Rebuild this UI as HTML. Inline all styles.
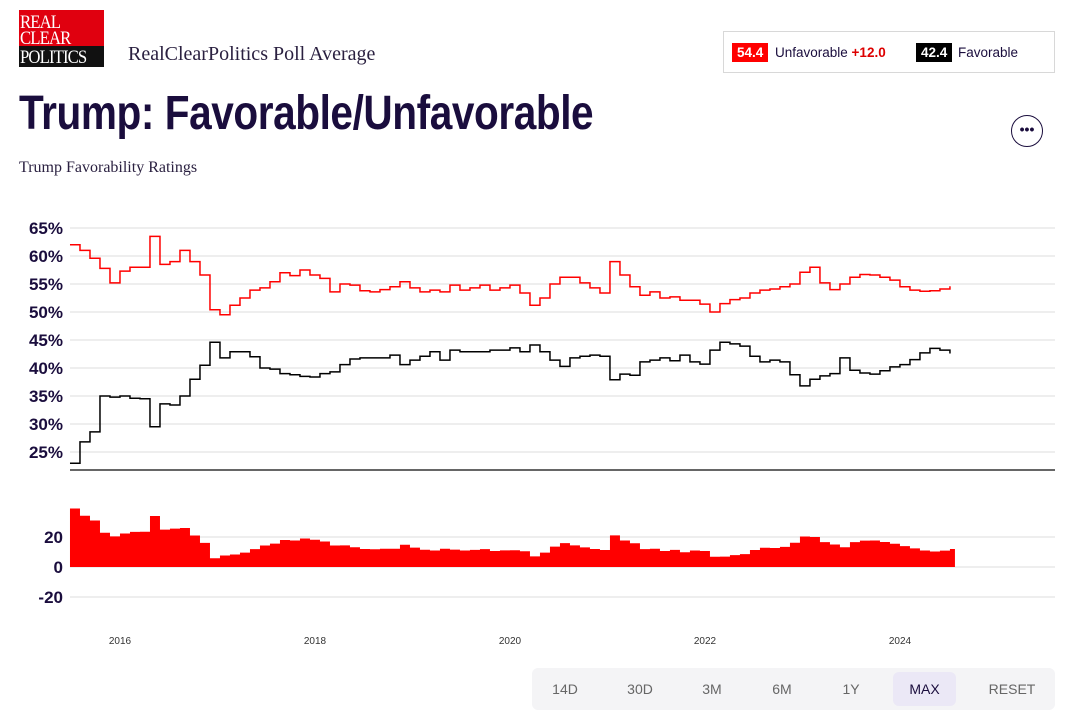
<!DOCTYPE html>
<html><head><meta charset="utf-8">
<style>
body{margin:0;width:1072px;height:711px;background:#fff;overflow:hidden;font-family:"Liberation Sans",sans-serif;position:relative;color:#1a0d3d}
.abs{position:absolute}
#logo{left:19px;top:10px;width:85px;height:57px;background:#e0000f;overflow:hidden}
#logo .t{position:absolute;left:1px;font-family:"Liberation Serif",serif;color:#fff;font-size:19px;line-height:17px;letter-spacing:-1px;transform:scaleX(0.88);transform-origin:left}
#logo .b{position:absolute;left:0;bottom:0;width:85px;height:21px;background:#111}
#title{left:19px;top:86px;font-family:"Liberation Sans Narrow","Liberation Sans",sans-serif;font-weight:bold;font-size:48px;letter-spacing:-0.5px;color:#1a0d3d;transform:scaleX(0.845);transform-origin:left;white-space:nowrap}
.btn{position:absolute;top:668px;height:42px;line-height:42px;font-size:14px;color:#666;text-align:center}
</style></head><body>
<div id="logo" class="abs">
 <div class="b"></div>
 <div class="t" style="top:4px">REAL</div>
 <div class="t" style="top:20px">CLEAR</div>
 <div class="t" style="top:39px">POLITICS</div>
</div>
<div class="abs" style="left:128px;top:43px;font-family:'Liberation Serif',serif;font-size:20px;color:#2a2040">RealClearPolitics Poll Average</div>
<div id="title" class="abs">Trump: Favorable/Unfavorable</div>
<div class="abs" style="left:19px;top:159px;font-family:'Liberation Serif',serif;font-size:16px;color:#2a2040">Trump Favorability Ratings</div>
<div class="abs" style="left:723px;top:31px;width:330px;height:40px;border:1px solid #d8d8d8;font-size:13.5px;color:#1a0d3d">
 <span class="abs" style="left:8px;top:11px;background:#f00;color:#fff;font-weight:bold;padding:1px 5px;line-height:17px">54.4</span>
 <span class="abs" style="left:51px;top:12px;line-height:17px">Unfavorable <b style="color:#d00">+12.0</b></span>
 <span class="abs" style="left:192px;top:11px;background:#000;color:#fff;font-weight:bold;padding:1px 5px;line-height:17px">42.4</span>
 <span class="abs" style="left:234px;top:12px;line-height:17px">Favorable</span>
</div>
<div class="abs" style="left:1011px;top:115px;width:30px;height:30px;border:1.5px solid #1a0d3d;border-radius:50%;text-align:center;line-height:26px;font-size:14px;font-weight:bold">•••</div>

<svg id="chart" class="abs" style="left:0;top:0" width="1072" height="711"></svg>

<div class="abs" style="left:532px;top:668px;width:523px;height:42px;background:#f4f4f6;border-radius:6px"></div>
<div class="btn" style="left:545px;width:40px">14D</div>
<div class="btn" style="left:620px;width:40px">30D</div>
<div class="btn" style="left:692px;width:40px">3M</div>
<div class="btn" style="left:762px;width:40px">6M</div>
<div class="btn" style="left:831px;width:40px">1Y</div>
<div class="btn" style="left:893px;width:63px;top:672px;height:34px;line-height:34px;background:#ebe8f6;border-radius:6px;color:#1a0d3d">MAX</div>
<div class="btn" style="left:985px;width:54px">RESET</div>

<script>
const startYear = 2015.487;
const stepYears = 0.10256;
const unfavorable = [62,61,59.6,57.8,55.2,57.3,58,58,63.5,58.5,59,61,59,56.6,50.4,49.5,51.2,52.5,53.9,54.3,55.4,57,56.5,57.5,56.6,56,53.6,55,54.8,53.8,53.6,54,54.5,55.4,54.3,53.6,53.9,53.6,54.8,53.9,54.3,54.8,53.9,54.3,54.8,53.4,51.2,52.5,55,56.2,56.2,55.2,54.3,53.4,59,56.6,54.5,53,53.6,52.5,52.7,52.1,52.1,51.4,50,51.5,52.2,52.5,53.4,53.9,54.1,54.5,55,57.1,58,55.2,54,55,56.2,56.7,56.6,56.2,55.7,54.5,53.9,53.7,53.8,54.1,54.6];
const favorable = [23,26.8,28.6,35,34.8,35,34.6,34.5,29.5,33.6,33.4,35,38,40.5,44.6,41.8,42.9,42.9,42,40,39.8,39,38.8,38.5,38.4,39,39.3,40.6,41.6,41.8,41.8,41.8,42.3,40.6,41.4,42.1,42.9,41.4,43.2,42.9,42.9,42.9,43.2,43.2,43.6,42.9,44.1,42.9,41.4,40.3,41.8,42.1,42.3,42.1,37.9,38.9,38.7,41.1,41.4,41.8,41.3,42.3,41.1,40.7,43.2,44.6,44.3,43.9,42.1,41.1,41.4,41.1,38.8,36.8,38,38.6,39,41.8,39.6,39.1,38.9,39.5,40.2,40.6,41.5,42.7,43.5,43.2,42.6];
const yTicks = [65,60,55,50,45,40,35,30,25];
const spreadTicks = [20,0,-20];
const xTickYears = [2016,2018,2020,2022,2024];

const NS='http://www.w3.org/2000/svg';
const svg=document.getElementById('chart');
const xS=yr=>120+(yr-2016)*97.5;
const yS=v=>228+(65-v)*5.6;
const sS=v=>567-v*1.5;
function mk(tag,attrs,parent){const e=document.createElementNS(NS,tag);for(const k in attrs)e.setAttribute(k,attrs[k]);(parent||svg).appendChild(e);return e;}

yTicks.forEach(t=>{
  const l=mk('line',{x1:70,x2:1055,y1:yS(t),y2:yS(t),stroke:'#dcdcdc','stroke-width':1});
  
  
  const tx=mk('text',{x:63,y:yS(t)+6,'text-anchor':'end','font-size':17,'font-weight':'bold',fill:'#1a0d3d','font-family':'Liberation Sans'});
  tx.textContent=t+'%';
  
  
});
const base=mk('line',{x1:70,x2:1055,y1:470,y2:470,stroke:'#666','stroke-width':2});



function stepPath(vals,sc){let d='';vals.forEach((v,i)=>{const x=xS(startYear+i*stepYears);const y=sc(v);if(i===0)d+='M'+x+','+y;else d+='H'+x+'V'+y;});return d;}
const up=mk('path',{d:stepPath(unfavorable,yS),fill:'none',stroke:'#f00','stroke-width':1.5});


const fp=mk('path',{d:stepPath(favorable,yS),fill:'none',stroke:'#000','stroke-width':1.5});



spreadTicks.forEach(t=>{
  const l=mk('line',{x1:70,x2:1055,y1:sS(t),y2:sS(t),stroke:'#dcdcdc','stroke-width':1});
  
  
  const tx=mk('text',{x:63,y:sS(t)+6,'text-anchor':'end','font-size':17,'font-weight':'bold',fill:'#1a0d3d','font-family':'Liberation Sans'});
  tx.textContent=t;
  
  
});
const spread=unfavorable.map((u,i)=>u-favorable[i]);
let d='M'+xS(startYear)+','+sS(0);
spread.forEach((v,i)=>{const xe=Math.min(xS(startYear+(i+1)*stepYears),xS(startYear+(spread.length-1)*stepYears)+5);d+='V'+sS(v)+'H'+xe;});
d+='V'+sS(0)+'Z';
const area=mk('path',{d:d,fill:'#f00'});



xTickYears.forEach(y=>{
  const tx=mk('text',{x:xS(y),y:644,'text-anchor':'middle','font-size':10,fill:'#333','font-family':'Liberation Sans'});
  tx.textContent=y;
  
  
});
</script>
</body></html>
